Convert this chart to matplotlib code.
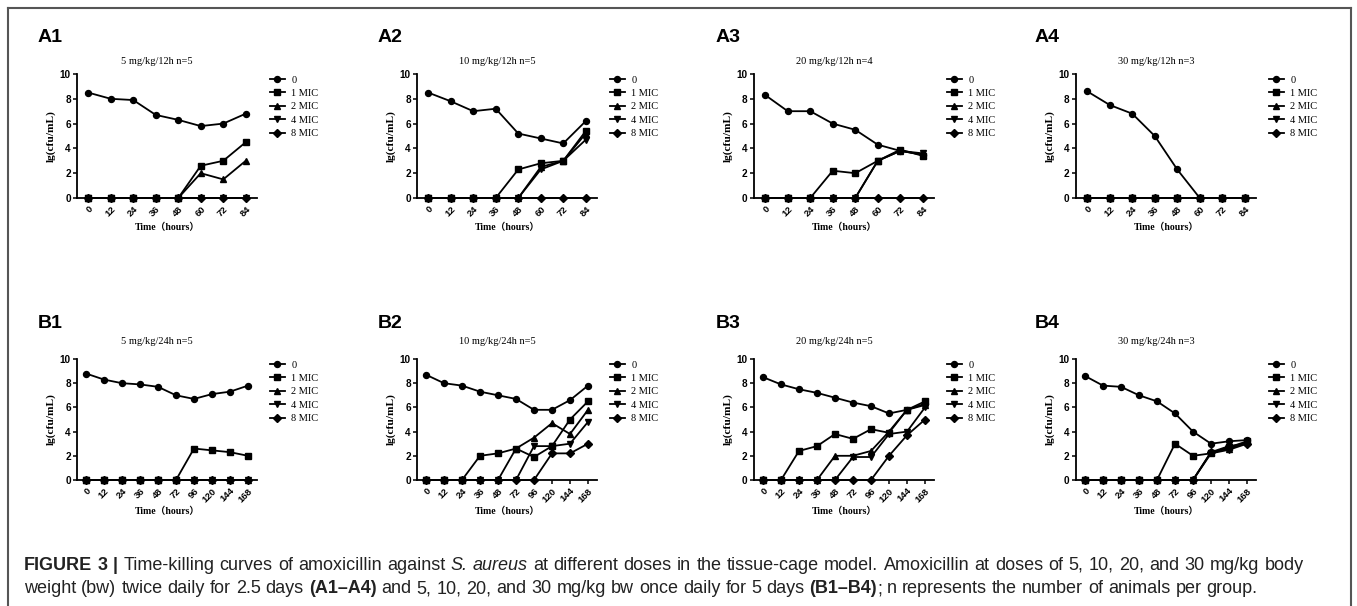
import matplotlib
matplotlib.use('Agg')
import matplotlib.pyplot as plt
from matplotlib.transforms import IdentityTransform

W, H = 1357, 606

hours_a = ['0', '12', '24', '36', '48', '60', '72', '84']
hours_b = ['0', '12', '24', '36', '48', '72', '96', '120', '144', '168']
series = ['0', '1 MIC', '2 MIC', '4 MIC', '8 MIC']
markers = ['o', 's', '^', 'v', 'D']

# lg(cfu/mL), rows follow `series`
a1 = [[8.5, 8.0, 7.9, 6.7, 6.3, 5.8, 6.0, 6.8],
      [0, 0, 0, 0, 0, 2.6, 3.0, 4.5],
      [0, 0, 0, 0, 0, 2.0, 1.5, 3.0],
      [0, 0, 0, 0, 0, 0, 0, 0],
      [0, 0, 0, 0, 0, 0, 0, 0]]
a2 = [[8.5, 7.8, 7.0, 7.2, 5.2, 4.8, 4.4, 6.2],
      [0, 0, 0, 0, 2.3, 2.8, 3.0, 5.4],
      [0, 0, 0, 0, 0, 2.5, 3.0, 5.2],
      [0, 0, 0, 0, 0, 2.3, 3.0, 4.7],
      [0, 0, 0, 0, 0, 0, 0, 0]]
a3 = [[8.3, 7.0, 7.0, 6.0, 5.5, 4.3, 3.8, 3.5],
      [0, 0, 0, 2.2, 2.0, 3.0, 3.9, 3.4],
      [0, 0, 0, 0, 0, 3.0, 3.8, 3.5],
      [0, 0, 0, 0, 0, 3.0, 3.8, 3.6],
      [0, 0, 0, 0, 0, 0, 0, 0]]
a4 = [[8.6, 7.5, 6.8, 5.0, 2.3, 0, 0, 0],
      [0, 0, 0, 0, 0, 0, 0, 0],
      [0, 0, 0, 0, 0, 0, 0, 0],
      [0, 0, 0, 0, 0, 0, 0, 0],
      [0, 0, 0, 0, 0, 0, 0, 0]]
b1 = [[8.8, 8.3, 8.0, 7.9, 7.7, 7.0, 6.7, 7.1, 7.3, 7.8],
      [0, 0, 0, 0, 0, 0, 2.6, 2.45, 2.3, 2.0],
      [0, 0, 0, 0, 0, 0, 0, 0, 0, 0],
      [0, 0, 0, 0, 0, 0, 0, 0, 0, 0],
      [0, 0, 0, 0, 0, 0, 0, 0, 0, 0]]
b2 = [[8.7, 8.0, 7.8, 7.3, 7.0, 6.7, 5.8, 5.8, 6.6, 7.8],
      [0, 0, 0, 2.0, 2.2, 2.6, 1.9, 2.8, 5.0, 6.5],
      [0, 0, 0, 0, 0, 2.6, 3.5, 4.7, 3.8, 5.8],
      [0, 0, 0, 0, 0, 0, 2.8, 2.8, 3.0, 4.8],
      [0, 0, 0, 0, 0, 0, 0, 2.2, 2.2, 3.0]]
b3 = [[8.5, 7.9, 7.5, 7.2, 6.8, 6.4, 6.1, 5.5, 5.8, 6.3],
      [0, 0, 2.4, 2.8, 3.8, 3.4, 4.2, 3.9, 5.8, 6.5],
      [0, 0, 0, 0, 2.0, 2.0, 2.4, 4.0, 5.8, 6.2],
      [0, 0, 0, 0, 0, 1.9, 1.9, 3.8, 4.0, 6.0],
      [0, 0, 0, 0, 0, 0, 0, 2.0, 3.7, 5.0]]
b4 = [[8.6, 7.8, 7.7, 7.0, 6.5, 5.5, 4.0, 3.0, 3.2, 3.3],
      [0, 0, 0, 0, 0, 3.0, 2.0, 2.2, 2.7, 3.2],
      [0, 0, 0, 0, 0, 0, 0, 2.3, 2.6, 3.1],
      [0, 0, 0, 0, 0, 0, 0, 2.2, 2.5, 3.0],
      [0, 0, 0, 0, 0, 0, 0, 2.3, 2.8, 3.0]]

panels = [
    ('A1', '5 mg/kg/12h n=5', hours_a, a1),
    ('A2', '10 mg/kg/12h n=5', hours_a, a2),
    ('A3', '20 mg/kg/12h n=4', hours_a, a3),
    ('A4', '30 mg/kg/12h n=3', hours_a, a4),
    ('B1', '5 mg/kg/24h n=5', hours_b, b1),
    ('B2', '10 mg/kg/24h n=5', hours_b, b2),
    ('B3', '20 mg/kg/24h n=5', hours_b, b3),
    ('B4', '30 mg/kg/24h n=3', hours_b, b4),
]

SERIF = ['Liberation Serif', 'Noto Sans CJK SC']
SANS = 'Liberation Sans'

fig = plt.figure(figsize=(W / 100, H / 100), dpi=100)

def fx(px):
    return px / W

def fy(py):
    return 1 - py / H

lefts = [77, 417, 754, 1076]
# axes top, axes bottom, panel label baseline, title centre, xlabel centre (px from top)
rows = {'A': (74, 198, 42, 61, 227), 'B': (359, 480, 328, 341, 511)}
label_x = [38, 378, 716, 1035]

for i, (tag, title, hours, data) in enumerate(panels):
    col = i % 4
    top, bot, lab_y, tit_y, xl_y = rows[tag[0]]
    ax = fig.add_axes([fx(lefts[col]), fy(bot), fx(180), (bot - top) / H])
    for name, mk, vals in zip(series, markers, data):
        ax.plot(hours, vals, color='black', lw=1.3, marker=mk, ms=4.3,
                label=name, clip_on=False, zorder=3)
    ax.set_xlim(-0.5, len(hours) - 0.5)
    ax.set_ylim(0, 10)
    ax.set_yticks([0, 2, 4, 6, 8, 10])
    for s in ('top', 'right'):
        ax.spines[s].set_visible(False)
    for s in ('left', 'bottom'):
        ax.spines[s].set_linewidth(1.3)
    ax.tick_params(direction='out', length=3, width=1.1, pad=1.5)
    for t in ax.get_yticklabels():
        t.set_fontfamily(SANS)
        t.set_fontweight('bold')
        t.set_fontsize(7.2)
    for t in ax.get_xticklabels():
        t.set_fontfamily(SANS)
        t.set_fontweight('bold')
        t.set_fontsize(6.8)
        t.set_rotation(45)
        t.set_ha('right')
        t.set_rotation_mode('anchor')
    ax.set_ylabel('lg(cfu/mL)', family=SERIF, fontweight='bold', fontsize=8.2, labelpad=3)
    fig.text(fx(lefts[col] + 90), fy(xl_y), 'Time（hours）', family=SERIF,
             fontweight='bold', fontsize=7, ha='center', va='center')
    fig.text(fx(lefts[col] + 80), fy(tit_y), title, family=SERIF,
             fontsize=7.5, ha='center', va='center')
    fig.text(fx(label_x[col]), fy(lab_y), tag, family=SANS, fontweight='bold',
             fontsize=14, ha='left', va='baseline')
    ax.legend(loc='upper left', bbox_to_anchor=(1.07, 0.99), frameon=False,
              prop={'family': SERIF, 'size': 7.5}, handlelength=1.5,
              handletextpad=0.6, labelspacing=0.4, borderpad=0, borderaxespad=0)

# outer frame
frame_kw = dict(color='#555555', lw=1.5, transform=fig.transFigure, clip_on=False)
fig.add_artist(plt.Line2D([fx(8), fx(8)], [fy(8), 0], **frame_kw))
fig.add_artist(plt.Line2D([fx(8), fx(1351)], [fy(8), fy(8)], **frame_kw))
fig.add_artist(plt.Line2D([fx(1351), fx(1351)], [fy(8), 0], **frame_kw))

# caption, first line justified
line1 = [('FIGURE 3 |', 'bold', 'normal'),
         (' Time-killing curves of amoxicillin against ', 'normal', 'normal'),
         ('S. aureus', 'normal', 'italic'),
         (' at different doses in the tissue-cage model. Amoxicillin at doses of 5, 10, 20, and 30 mg/kg body',
          'normal', 'normal')]
line2 = [('weight (bw) twice daily for 2.5 days ', 'normal', 'normal'),
         ('(A1–A4)', 'bold', 'normal'),
         (' and 5, 10, 20, and 30 mg/kg bw once daily for 5 days ', 'normal', 'normal'),
         ('(B1–B4)', 'bold', 'normal'),
         ('; n represents the number of animals per group.', 'normal', 'normal')]

CAP_FS = 13
renderer = fig.canvas.get_renderer()

def width(txt, wt='normal', st='normal'):
    t = fig.text(0, 0, txt, transform=IdentityTransform(), family=SANS,
                 fontsize=CAP_FS, fontweight=wt, fontstyle=st)
    w = t.get_window_extent(renderer=renderer).width
    t.remove()
    return w

def split_words(pieces):
    words = [[]]
    for txt, wt, st in pieces:
        for k, p in enumerate(txt.split(' ')):
            if k > 0:
                words.append([])
            if p:
                words[-1].append((p, wt, st))
    return [w for w in words if w]

space = width('a a') - width('aa')

def draw_line(pieces, base, x0, right=None):
    words = split_words(pieces)
    wlen = [sum(width(*seg) for seg in w) for w in words]
    gap = space
    if right is not None:
        gap = (right - x0 - sum(wlen)) / (len(words) - 1)
    x = x0
    for w, wl in zip(words, wlen):
        xx = x
        for txt, wt, st in w:
            t = fig.text(xx, base, txt, transform=IdentityTransform(), family=SANS,
                         fontsize=CAP_FS, fontweight=wt, fontstyle=st,
                         color='#222222', va='baseline', ha='left')
            xx = t.get_window_extent(renderer=renderer).x1
        x += wl + gap

draw_line(line1, H - 570, 24, right=1304)
draw_line(line2, H - 593, 24)

fig.savefig('out.png', dpi=100)
